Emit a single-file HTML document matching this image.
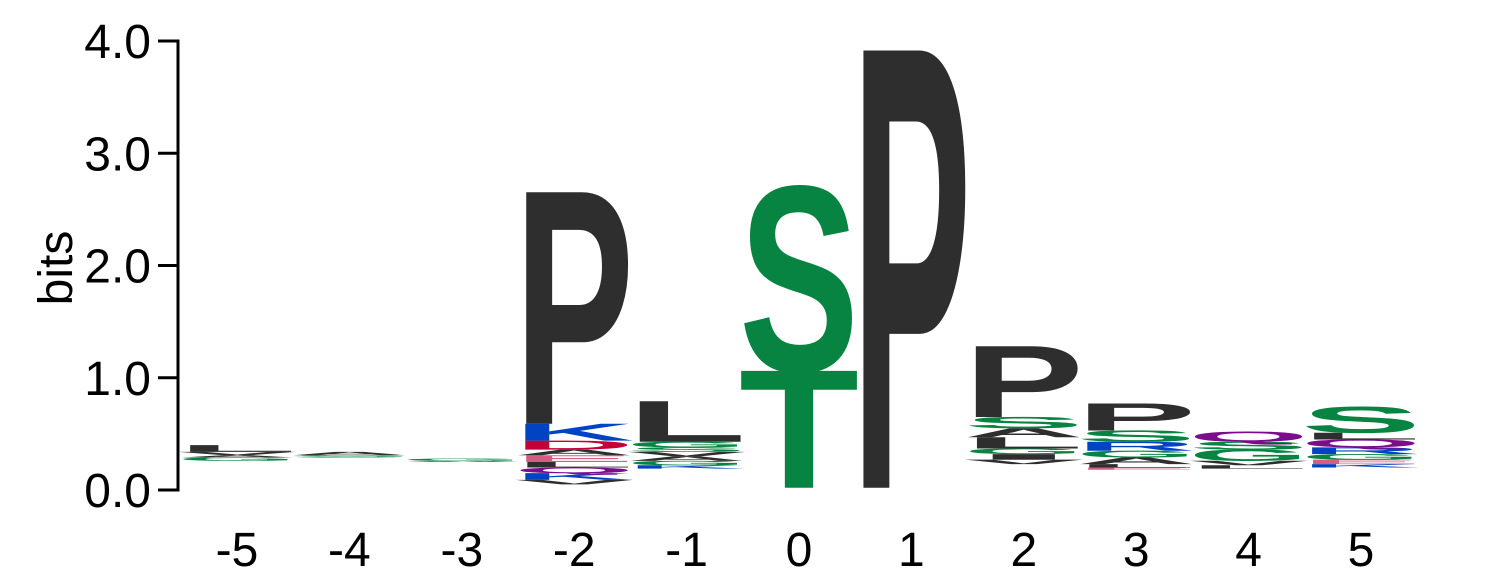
<!DOCTYPE html>
<html><head><meta charset="utf-8"><style>
html,body{margin:0;padding:0;background:#fff;overflow:hidden;width:1486px;height:583px;}
svg{display:block;font-family:"Liberation Sans",sans-serif;}
</style></head><body>
<svg id="chart" width="1486" height="583" viewBox="0 0 1486 583" xmlns="http://www.w3.org/2000/svg">
<g id="axis"></g>
<g id="marks"></g>
</svg>
<script>
const positions = ["-5","-4","-3","-2","-1","0","1","2","3","4","5"];
const bases = [0.26,0.29,0.25,0.05,0.19,0.02,0.02,0.23,0.18,0.19,0.20];
const stackLetters = [
 ["G","A","V","L"],
 ["S","A"],
 ["A","G"],
 ["V","K","Q","L","E","A","D","K","P"],
 ["K","G","A","V","S","G","L"],
 ["T","S"],
 ["P"],
 ["V","I","G","L","A","S","P"],
 ["E","L","A","G","R","S","P"],
 ["L","V","G","S","Q"],
 ["K","E","G","R","Q","L","S"]
];
const stackHeights = [
 [0.03,0.02,0.03,0.06],
 [0.02,0.03],
 [0.01,0.02],
 [0.04,0.06,0.05,0.05,0.06,0.05,0.08,0.15,2.06],
 [0.03,0.04,0.04,0.04,0.04,0.05,0.36],
 [1.04,1.63],
 [3.89],
 [0.04,0.05,0.05,0.10,0.08,0.10,0.63],
 [0.02,0.03,0.06,0.06,0.08,0.10,0.24],
 [0.03,0.04,0.10,0.07,0.09],
 [0.03,0.04,0.05,0.06,0.07,0.06,0.23]
];
const yTicks = [0,1,2,3,4];
const yTickLabels = ["0.0","1.0","2.0","3.0","4.0"];

const NS="http://www.w3.org/2000/svg";
const y0=490, pxPerBit=112.25, x0=237, step=112.4, colW=120, capH=68.7;
const yS = v => y0 - v*pxPerBit;
const xS = i => x0 + i*step;
const colorOf = c => ({D:"#c4003a",E:"#d35e82",K:"#0044c4",R:"#0044c4",H:"#0044c4",Q:"#7b0c8e",N:"#7b0c8e",S:"#088442",T:"#088442",G:"#088442",Y:"#088442",C:"#088442"})[c]||"#2e2e2e";
const axis=document.getElementById('axis'), marks=document.getElementById('marks');
function mk(tag,attrs,parent){const e=document.createElementNS(NS,tag);for(const k in attrs)e.setAttribute(k,attrs[k]);parent.appendChild(e);return e;}

const line=mk('line',{x1:178,y1:yS(4)-1.5,x2:178,y2:yS(0)+1.5,stroke:"#000","stroke-width":3},axis);


yTicks.forEach((v,i)=>{
  const t=mk('line',{x1:158,x2:178,y1:yS(v),y2:yS(v),stroke:"#000","stroke-width":3},axis);
  
  
  const l=mk('text',{x:151,y:yS(v)+17,"text-anchor":"end","font-size":48,fill:"#000"},axis);
  l.textContent=yTickLabels[i];
  
  
});
const yt=mk('text',{x:0,y:0,"text-anchor":"middle","font-size":48,fill:"#000",transform:"translate(72,268) rotate(-90)"},axis);
yt.textContent="bits";



positions.forEach((p,i)=>{
  const xl=mk('text',{x:xS(i),y:566,"text-anchor":"middle","font-size":48,fill:"#000"},axis);
  xl.textContent=p;
  
  
  let cum=bases[i];
  stackLetters[i].forEach((c,j)=>{
    const h=stackHeights[i][j];
    const hp=h*pxPerBit;
    const yb=yS(cum);
    const t=mk('text',{x:0,y:0,"font-size":100,"font-weight":"bold",fill:colorOf(c),textLength:colW,lengthAdjust:"spacingAndGlyphs",transform:`translate(${xS(i)-colW/2},${yb}) scale(1,${hp/capH})`},marks);
    t.textContent=c;
    
    
    cum+=h;
  });
});
</script>
</body></html>
